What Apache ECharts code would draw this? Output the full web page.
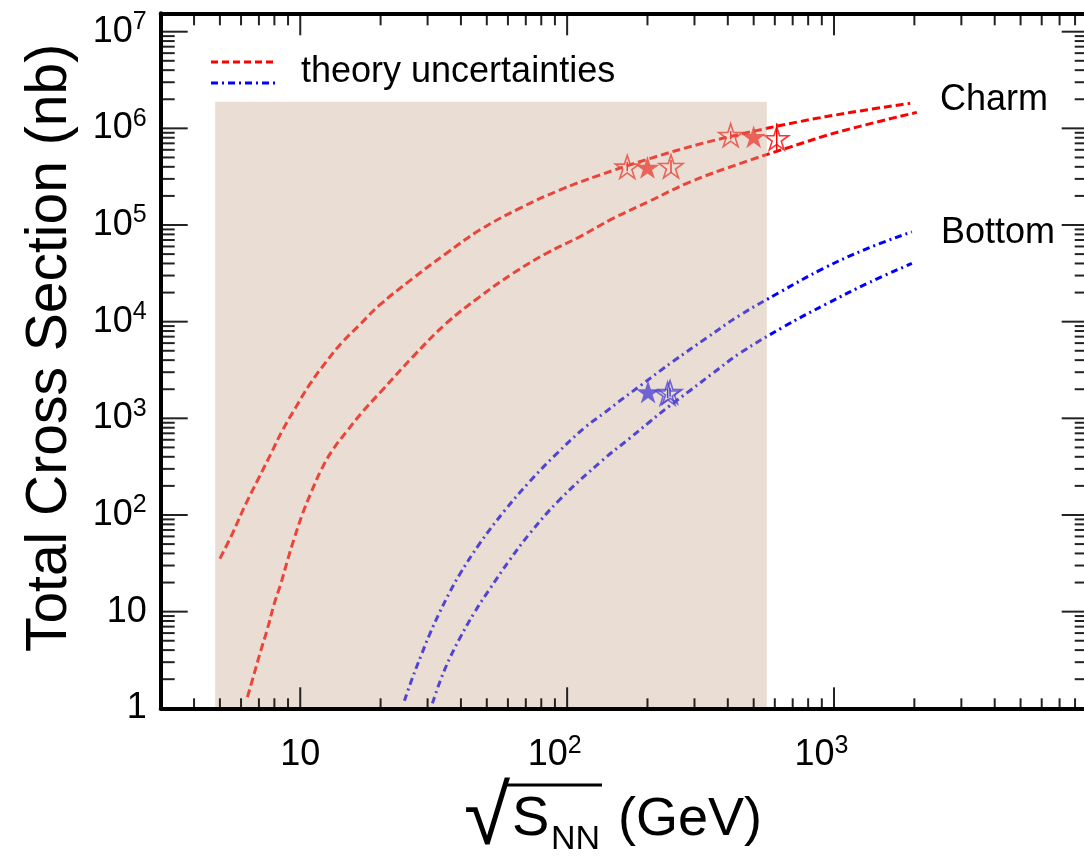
<!DOCTYPE html>
<html>
<head>
<meta charset="utf-8">
<title>Total cross section vs sqrt(s_NN)</title>
<script src="https://cdn.jsdelivr.net/npm/echarts@6.0.0/dist/echarts.min.js"></script>
<style>
  html, body { margin: 0; padding: 0; background: #fff; }
  #chart { width: 1084px; height: 858px; }
</style>
</head>
<body>
<div id="chart"></div>
<script>
// axis ranges of the frame
const xRange = [3, 9000];
const yRange = [1, 1.55e7];

// ticks
const xMajorTicks = [10, 100, 1000];
const yMajorTicks = [1, 10, 100, 1e3, 1e4, 1e5, 1e6, 1e7];
const mantissas = [2, 3, 4, 5, 6, 7, 8, 9];
const xMinorDecades = [1, 10, 100, 1000];
const yMinorDecades = [1, 10, 100, 1e3, 1e4, 1e5, 1e6];

// shaded energy region
const bandX = [4.8, 560];
const bandY = [1, 1.88e6];

// charm theory uncertainty edges
const charmHiX = [5.0, 5.57, 6.26, 7.02, 7.77, 8.58, 9.64, 10.8, 12.5, 14.4, 16.65, 19.8, 26.4, 35.2, 47.0, 66.3, 93.7, 132.4, 204, 314, 484, 745, 1148, 1929];
const charmHiY = [35.4, 64.2, 131, 247, 432, 753, 1312, 2202, 3837, 6179, 9200, 14820, 28000, 50800, 88600, 148500, 229800, 328600, 486800, 688000, 915600, 1.176e6, 1.457e6, 1.815e6];
const charmLoX = [6.34, 6.72, 7.12, 7.54, 7.99, 8.46, 8.96, 9.49, 10.2, 11.0, 11.96, 13.2, 15.05, 17.1, 19.96, 26.4, 35.2, 47.0, 62.6, 83.5, 111.4, 148.6, 204, 288, 444, 684, 1053, 2043];
const charmLoY = [1.306, 2.28, 3.98, 6.67, 12.1, 19.5, 34.0, 57.0, 103, 173, 290, 468, 753, 1165, 1863, 4321, 9580, 18060, 31550, 50800, 75500, 117000, 176800, 278000, 432000, 640000, 927000, 1.464e6];

// bottom theory uncertainty edges
const bottomHiX = [24.56, 26.33, 28.44, 30.49, 33.24, 36.24, 39.5, 47.0, 58.3, 72.3, 89.8, 116.3, 138.3, 161.6, 190.4, 222.4, 248.9, 333.8, 443.9, 627.2, 909.3, 1330, 1957];
const bottomHiY = [1.196, 2.07, 3.58, 5.77, 9.74, 15.7, 24.1, 50.5, 110.8, 221, 411, 801, 1146, 1599, 2233, 3081, 3864, 6820, 11660, 20200, 35380, 57000, 85000];
const bottomLoX = [31.28, 33.5, 36.24, 39.5, 44.97, 51.2, 60.84, 72.3, 93.7, 135.9, 171.6, 204, 242.4, 288.2, 351.6, 444, 643.7, 941, 1365, 1957];
const bottomLoY = [1.124, 1.944, 3.25, 5.23, 9.83, 17.0, 34.0, 63.9, 143.7, 370, 622, 922, 1350, 1931, 2930, 4720, 8770, 15360, 25640, 40040];

// measurements (stars)
const charmFilledX = [200, 500];
const charmFilledY = [3.95e5, 8.2e5];
const charmOpenX = [168, 245, 410, 610];
const charmOpenY = [4.0e5, 4.05e5, 8.5e5, 7.87e5];
const charmOpenLow = [3.6e5, 3.45e5, 7.7e5, 5.7e5];
const charmOpenHigh = [4.5e5, 4.7e5, 9.4e5, 1.13e6];
const bottomFilledX = [201];
const bottomFilledY = [1.87e3];
const bottomOpenX = [238, 243];
const bottomOpenY = [1.8e3, 1.86e3];
const bottomOpenLow = [1.62e3, 1.68e3];
const bottomOpenHigh = [2.0e3, 2.05e3];

const RED = '#ff0000';
const BLUE = '#0000ff';
const FONT = '"Liberation Sans", Arial, Helvetica, sans-serif';
const STAR = 'path://M0,-100 L22.45,-30.9 L95.1,-30.9 L36.3,11.8 L58.8,80.9 L0,38.2 L-58.8,80.9 L-36.3,11.8 L-95.1,-30.9 L-22.45,-30.9 Z';

function pairs(xs, ys) {
    return xs.map((x, i) => [x, ys[i]]);
}

function isPow10(v) {
    const l = Math.log10(v);
    return Math.abs(l - Math.round(l)) < 1e-6;
}

function powLabel(v, gap) {
    if (!isPow10(v)) return '';
    const e = Math.round(Math.log10(v));
    if (e === 0) return '{b|1}';
    if (e === 1) return '{b|10}';
    return '{b|10}{s|' + e + '}' + (gap ? '{g| }' : '');
}

const labelRich = {
    b: { fontFamily: FONT, fontSize: 36, lineHeight: 44, color: '#000' },
    s: { fontFamily: FONT, fontSize: 25, lineHeight: 22, verticalAlign: 'top', color: '#000' },
    g: { fontFamily: FONT, fontSize: 25, width: 25 }
};

// tick list: [value, kind] kind 1 x major, 2 x minor, 3 y major, 4 y minor
const tickData = [];
xMajorTicks.forEach(v => tickData.push([v, 1]));
xMinorDecades.forEach(d => mantissas.forEach(m => {
    const v = m * d;
    if (v > xRange[0] && v < xRange[1]) tickData.push([v, 2]);
}));
yMajorTicks.forEach(v => tickData.push([v, 3]));
yMinorDecades.forEach(d => mantissas.forEach(m => {
    const v = m * d;
    if (v > yRange[0] && v < yRange[1]) tickData.push([v, 4]);
}));

function renderTick(params, api) {
    const v = api.value(0);
    const kind = api.value(1);
    const cs = params.coordSys;
    const top = cs.y, bottom = cs.y + cs.height, left = cs.x, right = cs.x + cs.width;
    const st = () => ({ stroke: '#222', lineWidth: 2 });
    if (kind <= 2) {
        const px = api.coord([v, yRange[0]])[0];
        const lb = kind === 1 ? 21 : 10;
        const lt = kind === 1 ? 22 : 12;
        return {
            type: 'group',
            children: [
                { type: 'line', shape: { x1: px, y1: bottom, x2: px, y2: bottom - lb }, style: st() },
                { type: 'line', shape: { x1: px, y1: top, x2: px, y2: top + lt }, style: st() }
            ]
        };
    }
    const py = api.coord([xRange[0], v])[1];
    const len = kind === 3 ? 27 : 14;
    return {
        type: 'group',
        children: [
            { type: 'line', shape: { x1: left, y1: py, x2: left + len, y2: py }, style: st() },
            { type: 'line', shape: { x1: right, y1: py, x2: right - len, y2: py }, style: st() }
        ]
    };
}

function renderBand(params, api) {
    const p0 = api.coord([api.value(0), api.value(1)]);
    const p1 = api.coord([api.value(2), api.value(3)]);
    return {
        type: 'rect',
        shape: { x: p0[0], y: p1[1], width: p1[0] - p0[0], height: p0[1] - p1[1] },
        style: { fill: 'rgba(203,173,148,0.4)' }
    };
}

function errRenderer(color) {
    return function (params, api) {
        const a = api.coord([api.value(0), api.value(1)]);
        const b = api.coord([api.value(0), api.value(2)]);
        return {
            type: 'line',
            shape: { x1: a[0], y1: a[1], x2: b[0], y2: b[1] },
            style: { stroke: color, lineWidth: 1.5 }
        };
    };
}

function curve(name, xs, ys, color, dash) {
    return {
        name: name,
        type: 'line',
        data: pairs(xs, ys),
        showSymbol: false,
        smooth: 0.4,
        z: 2,
        lineStyle: { color: color, width: 3, type: dash },
        silent: true
    };
}

function stars(xs, ys, color, filled) {
    return {
        type: 'scatter',
        data: pairs(xs, ys),
        symbol: STAR,
        symbolSize: [24, 23],
        z: 2,
        itemStyle: filled
            ? { color: color }
            : { color: 'rgba(0,0,0,0)', borderColor: color, borderWidth: 1.6 }
    };
}

const axisLine = { show: true, onZero: false, lineStyle: { color: '#000', width: 4 } };

const chart = echarts.init(document.getElementById('chart'));
chart.setOption({
    animation: false,
    backgroundColor: '#fff',
    grid: { left: 160.7, right: -4.7, top: 13.3, bottom: 149.7, outerBoundsMode: 'none' },
    xAxis: [{
        type: 'log', min: xRange[0], max: xRange[1], position: 'bottom', z: 5,
        axisLine: axisLine, axisTick: { show: false }, splitLine: { show: false },
        axisLabel: { margin: 25, formatter: v => powLabel(v, true), rich: labelRich }
    }, {
        type: 'log', min: xRange[0], max: xRange[1], position: 'top', z: 5,
        axisLine: axisLine, axisTick: { show: false }, splitLine: { show: false },
        axisLabel: { show: false }
    }],
    yAxis: [{
        type: 'log', min: yRange[0], max: yRange[1], position: 'left', z: 5,
        axisLine: axisLine, axisTick: { show: false }, splitLine: { show: false },
        axisLabel: { margin: 14, formatter: v => powLabel(v, false), rich: labelRich }
    }, {
        type: 'log', min: yRange[0], max: yRange[1], position: 'right', z: 5,
        axisLine: axisLine, axisTick: { show: false }, splitLine: { show: false },
        axisLabel: { show: false }
    }],
    series: [
        curve('charm high', charmHiX, charmHiY, RED, [8, 4]),
        curve('charm low', charmLoX, charmLoY, RED, [8, 4]),
        curve('bottom high', bottomHiX, bottomHiY, BLUE, [7, 4, 2, 4]),
        curve('bottom low', bottomLoX, bottomLoY, BLUE, [7, 4, 2, 4]),
        stars(charmFilledX, charmFilledY, RED, true),
        stars(charmOpenX, charmOpenY, RED, false),
        stars(bottomFilledX, bottomFilledY, BLUE, true),
        stars(bottomOpenX, bottomOpenY, BLUE, false),
        {
            type: 'custom', z: 2, silent: true,
            renderItem: errRenderer(RED),
            data: charmOpenX.map((x, i) => [x, charmOpenLow[i], charmOpenHigh[i]]),
            encode: { x: 0, y: [1, 2] }
        },
        {
            type: 'custom', z: 2, silent: true,
            renderItem: errRenderer(BLUE),
            data: bottomOpenX.map((x, i) => [x, bottomOpenLow[i], bottomOpenHigh[i]]),
            encode: { x: 0, y: [1, 2] }
        },
        {
            type: 'custom', z: 3, silent: true,
            renderItem: renderBand,
            data: [[bandX[0], bandY[0], bandX[1], bandY[1]]],
            encode: { x: [0, 2], y: [1, 3] }
        },
        {
            type: 'custom', z: 4, silent: true, clip: false,
            renderItem: renderTick,
            data: tickData
        }
    ],
    graphic: [
        // legend
        { type: 'line', shape: { x1: 211, y1: 62, x2: 275, y2: 62 },
          style: { stroke: RED, lineWidth: 3, lineDash: [7, 4] } },
        { type: 'line', shape: { x1: 211, y1: 83, x2: 275, y2: 83 },
          style: { stroke: BLUE, lineWidth: 3, lineDash: [7, 4, 2, 4] } },
        { type: 'text', x: 301, y: 72,
          style: { text: 'theory uncertainties', font: '36px ' + FONT, fill: '#000', verticalAlign: 'middle' } },
        // curve labels
        { type: 'text', x: 940, y: 100,
          style: { text: 'Charm', font: '36px ' + FONT, fill: '#000', verticalAlign: 'middle' } },
        { type: 'text', x: 941, y: 233,
          style: { text: 'Bottom', font: '36px ' + FONT, fill: '#000', verticalAlign: 'middle' } },
        // y title
        { type: 'text', x: 50, y: 348, rotation: Math.PI / 2,
          style: { text: 'Total Cross Section (nb)', font: '57px ' + FONT, fill: '#000', align: 'center', verticalAlign: 'middle' } },
        // x title
        { type: 'text', x: 510, y: 779,
          style: { text: '\u221A', font: '84px ' + FONT, fill: '#000', align: 'right', verticalAlign: 'top' } },
        { type: 'line', shape: { x1: 506, y1: 785, x2: 602, y2: 785 },
          style: { stroke: '#000', lineWidth: 3 } },
        { type: 'text', x: 512, y: 820,
          style: { text: 'S', font: '56px ' + FONT, fill: '#000', verticalAlign: 'middle' } },
        { type: 'text', x: 551, y: 840,
          style: { text: 'NN', font: '34px ' + FONT, fill: '#000', verticalAlign: 'middle' } },
        { type: 'text', x: 618, y: 820,
          style: { text: '(GeV)', font: '54px ' + FONT, fill: '#000', verticalAlign: 'middle' } }
    ]
});
</script>
</body>
</html>
